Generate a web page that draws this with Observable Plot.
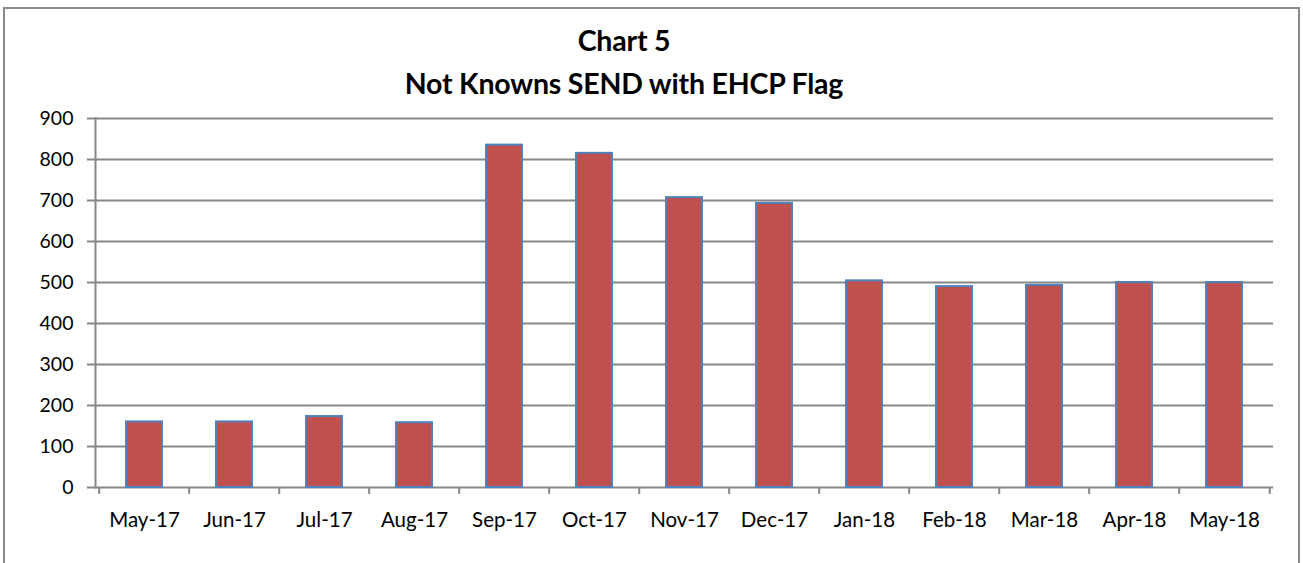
<!DOCTYPE html>
<html>
<head>
<meta charset="utf-8">
<script src="https://cdn.jsdelivr.net/npm/d3@7"></script>
<script src="https://cdn.jsdelivr.net/npm/@observablehq/plot@0.6"></script>
<style>
  html, body { margin: 0; padding: 0; background: #fff; overflow: hidden; }
  #wrap { position: relative; width: 1303px; height: 563px; overflow: hidden; font-family: Lato, "Open Sans", sans-serif; }
  #border { position: absolute; left: 3px; top: 7px; width: 1297px; height: 600px; border: 2px solid #8a8a8a; box-sizing: border-box; }
  #chart { position: absolute; left: 0; top: 0; }
  .title { position: absolute; left: 0; width: 1248px; text-align: center; font-weight: 700; font-size: 28.5px; line-height: 42px; color: #000; white-space: pre; letter-spacing: -0.2px; }
</style>
</head>
<body>
<div id="wrap">
  <div id="border"></div>
  <div id="chart"></div>
  <div class="title" style="top:19px">Chart 5</div>
  <div class="title" style="top:62px">Not Knowns SEND with EHCP Flag</div>
</div>
<script>
const months = ["May-17","Jun-17","Jul-17","Aug-17","Sep-17","Oct-17","Nov-17","Dec-17","Jan-18","Feb-18","Mar-18","Apr-18","May-18"];
const values = [160, 160, 173, 158, 835, 815, 707, 693, 504, 490, 493, 500, 500];
const yTicks = [0, 100, 200, 300, 400, 500, 600, 700, 800, 900];

const data = months.map((m, i) => ({month: m, value: values[i]}));

const W = 1303, H = 563, ML = 95, MR = 30;
const step = (W - ML - MR) / months.length;
const grey = "#878787";

const plot = Plot.plot({
  width: W,
  height: H,
  marginTop: 118,
  marginBottom: 76,
  marginLeft: ML,
  marginRight: MR,
  style: {fontFamily: "Lato, sans-serif", fontSize: "19px", color: "#000", background: "transparent"},
  x: {domain: months, paddingInner: 0.6, paddingOuter: 0.3, label: null},
  y: {domain: [0, 900], label: null},
  marks: [
    Plot.gridY(yTicks, {stroke: grey, strokeOpacity: 1, strokeWidth: 2}),
    Plot.axisY(yTicks, {tickSize: 8, tickPadding: 14, stroke: grey, strokeWidth: 2, fill: "#000", fontSize: 19.5, label: null}),
    Plot.axisX({tickSize: 0, tickPadding: 25, fill: "#000", fontSize: 20.5, label: null}),
    Plot.ruleX(months, {x: d => d, dx: -step / 2, y1: 0, y2: -17, stroke: grey, strokeWidth: 2}),
    Plot.ruleX(months.slice(-1), {x: d => d, dx: step / 2, y1: 0, y2: -17, stroke: grey, strokeWidth: 2}),
    Plot.frame({anchor: "left", stroke: grey, strokeWidth: 2}),
    Plot.barY(data, {x: "month", y: "value", fill: "#C0504D", stroke: "#4F81BD", strokeWidth: 2})
  ]
});
document.getElementById("chart").appendChild(plot);
</script>
</body>
</html>
